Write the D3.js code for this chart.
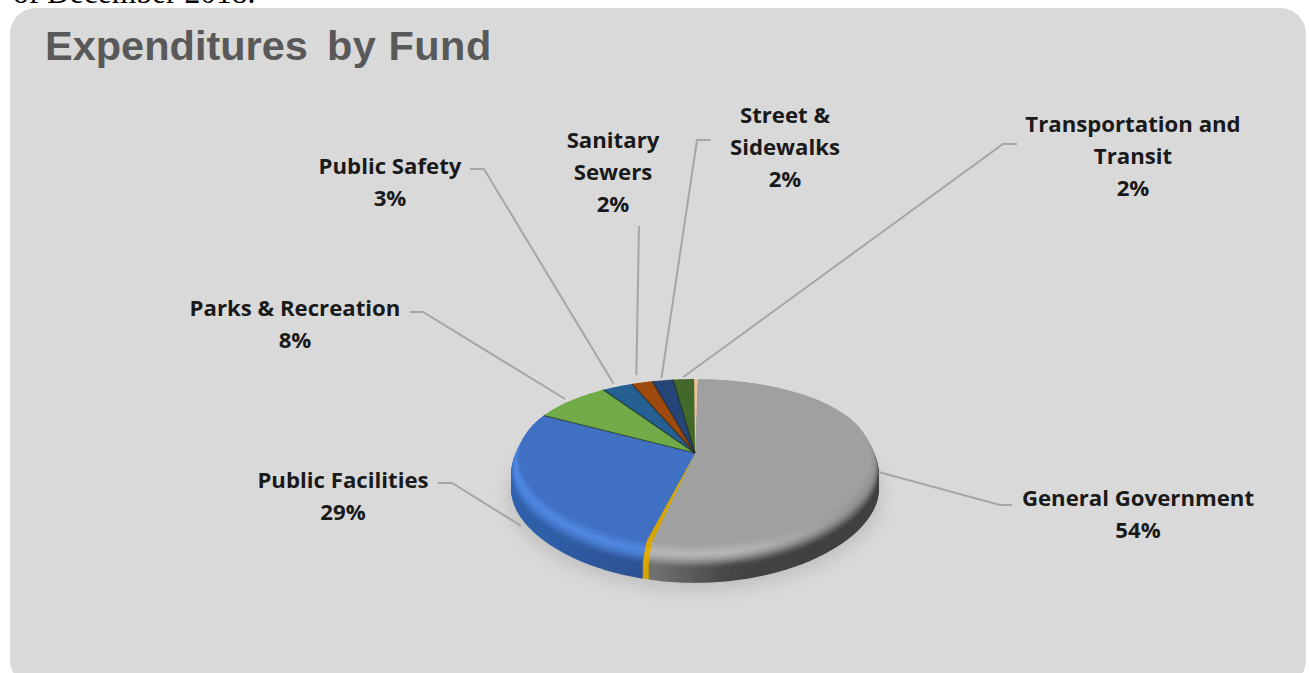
<!DOCTYPE html>
<html>
<head>
<meta charset="utf-8">
<title>Expenditures by Fund</title>
<script src="https://cdn.jsdelivr.net/npm/d3@7/dist/d3.min.js"></script>
<style>
  html, body { margin: 0; padding: 0; background: #fff; overflow: hidden; }
  svg { display: block; }
</style>
</head>
<body>
<svg id="chart" width="1309" height="673"></svg>
<script>
// Fund shares in percent, clockwise from twelve o'clock.
const funds = ["General Government", "Unlabelled A", "Public Facilities", "Parks & Recreation",
               "Public Safety", "Sanitary Sewers", "Street & Sidewalks", "Transportation and Transit", "Unlabelled B"];
const shares = [54, 0.5, 29, 8, 3, 2, 2, 2, 0.3];
const labelLines = [
  ["General Government"], null, ["Public Facilities"], ["Parks & Recreation"],
  ["Public Safety"], ["Sanitary", "Sewers"], ["Street &", "Sidewalks"], ["Transportation and", "Transit"], null
];
const faceColors = ["#a0a0a0", "#d8a500", "#3f6fc2", "#6fab46", "#255e91", "#9e480e", "#264478", "#43682b", "#eec3a0"];
const highlightColors = ["#b6b6b6", "#e0ae08", "#4f86e0", "#7cbb50", "#2c6ca6", "#b05210", "#2c4f8a", "#4d7632", "#f7c09a"];
const wallFarColors = ["#717171", "#d8a500", "#2f62ae", "#4f7a32", "#1b4468", "#70330a", "#1b3055", "#2f4a1f", "#c08a60"];
const wallNearColors = ["#717171", "#d8a500", "#2e5090", "#4f7a32", "#1b4468", "#70330a", "#1b3055", "#2f4a1f", "#c08a60"];
const wallDarkColors = ["#444444", "#d8a500", "#2e5090", "#4f7a32", "#1b4468", "#70330a", "#1b3055", "#2f4a1f", "#c08a60"];

// Label placement: text centre, first baseline, leader elbow and the leader's end on the pie.
const labelLayout = [
  { tx: 1138, ty: 506, elbow: [[1012, 505], [1000, 505]], grow: 1.0, drop: 8 },
  null,
  { tx: 343, ty: 488, elbow: [[438, 483], [452, 483]], grow: 1.0, drop: 38 },
  { tx: 295, ty: 316, elbow: [[410, 312], [423, 312]], grow: 1.02, drop: 0 },
  { tx: 390, ty: 174, elbow: [[470, 169], [484, 169]], grow: 1.04, drop: 0 },
  { tx: 613, ty: 148, elbow: [[639, 226]], grow: 1.1, drop: 0 },
  { tx: 785, ty: 123, elbow: [[711, 140], [697, 140]], grow: 1.03, drop: 0 },
  { tx: 1133, ty: 132, elbow: [[1017, 144], [1003, 144]], grow: 1.03, drop: 0 },
  null
];

const width = 1309, height = 673;
const cx = 695, cy = 453;          // apex of the pie as seen in perspective
const tiltX = 0.07, tiltY = 0.149; // foreshortening front to back
const radiusX = 183.5, radiusY = 85;
const depth = 30, bevelDepth = 17, bevelInset = 0.075;
const startRotation = 0.015;

const svg = d3.select("#chart");
const defs = svg.append("defs");

defs.append("filter").attr("id", "softShadow")
  .attr("x", "-20%").attr("y", "-40%").attr("width", "140%").attr("height", "180%")
  .append("feGaussianBlur").attr("stdDeviation", 8);
defs.append("filter").attr("id", "soften")
  .attr("x", "-5%").attr("y", "-5%").attr("width", "110%").attr("height", "110%")
  .append("feGaussianBlur").attr("stdDeviation", 0.5);

// Page text above the panel, cut off by the top of the page.
svg.append("text").attr("x", 13).attr("y", 3)
  .attr("font-family", "'Liberation Serif', serif").attr("font-size", 31.5)
  .attr("fill", "#000").text("of December 2018.");

svg.append("rect").attr("x", 10).attr("y", 8).attr("width", 1296).attr("height", 678)
  .attr("rx", 26).attr("fill", "#d9d9d9");

const title = svg.append("text").attr("x", 45).attr("y", 60)
  .attr("font-family", "'Liberation Sans', Arial, sans-serif").attr("font-size", 41.5).attr("font-weight", 700)
  .attr("fill", "#595959");
title.append("tspan").text("Expenditures");
title.append("tspan").attr("dx", 7).attr("letter-spacing", 0.5).text(" by Fund");

// Projection of a point on the tilted disc; z moves down the rim.
function project(angle, scale, z) {
  const c = Math.cos(angle);
  return [cx + scale * radiusX * Math.sin(angle) / (1 + tiltX * c),
          cy - scale * radiusY * c / (1 + tiltY * c) + z];
}

// The rounded edge is broad at the front of the disc and vanishes at the back.
function rimScale(angle, z) {
  const front = Math.pow((1 - Math.cos(angle)) / 2, 0.8);
  const t = z >= bevelDepth ? 1 : Math.sin((z / bevelDepth) * Math.PI / 2);
  return 1 - bevelInset * front * (1 - t);
}

const pie = d3.pie().value(d => d).sort(null)
  .startAngle(startRotation).endAngle(startRotation + 2 * Math.PI);
const arcs = pie(shares);

function wedgePath(a, z) {
  const steps = Math.max(2, Math.ceil((a.endAngle - a.startAngle) / 0.02));
  const pts = d3.range(steps + 1).map(i => {
    const t = a.startAngle + (a.endAngle - a.startAngle) * i / steps;
    return project(t, rimScale(t, z), z);
  });
  return d3.line()([[cx, cy + z], ...pts]) + "Z";
}

// Shadow under the disc.
const shadowPts = d3.range(0, 2 * Math.PI, 0.05).map(t => project(t, 1.02, depth + 6));
svg.append("path").attr("d", d3.line()(shadowPts) + "Z")
  .attr("fill", "#b8b8b8").attr("opacity", 0.7).attr("filter", "url(#softShadow)");

// Colour across the rim profile: z = 0 is the top face, z = depth the bottom edge.
function profileColor(i, z, wall, top) {
  const face = faceColors[i];
  if (z <= 5) return d3.interpolateRgb(face, top)(z / 5);
  if (z >= bevelDepth) return wall;
  return d3.interpolateRgb(top, wall)(d3.easeSinInOut((z - 5) / (bevelDepth - 5)));
}

const levels = d3.range(depth, -1, -1);
const rimX = d3.scaleLinear().domain([512, 880]).range([0, 1]);

// One horizontal gradient per slice and rim level, so the wall darkens to the right.
defs.selectAll("linearGradient.rim")
  .data(d3.cross(d3.range(arcs.length), levels))
  .join("linearGradient")
  .attr("id", d => `rim-${d[0]}-${d[1]}`)
  .attr("gradientUnits", "userSpaceOnUse")
  .attr("x1", rimX.invert(0)).attr("x2", rimX.invert(1)).attr("y1", 0).attr("y2", 0)
  .selectAll("stop")
  .data(([i, z]) => {
    const hi = highlightColors[i], face = faceColors[i];
    return [
      { o: 0.0,  c: profileColor(i, z, wallFarColors[i], hi) },
      { o: 0.38, c: profileColor(i, z, wallNearColors[i], hi) },
      { o: 0.60, c: profileColor(i, z, wallDarkColors[i], hi) },
      { o: 0.93, c: profileColor(i, z, d3.interpolateRgb(wallDarkColors[i], "#000")(0.08), d3.interpolateRgb(face, wallDarkColors[i])(0.12)) }
    ];
  })
  .join("stop")
  .attr("offset", d => d.o).attr("stop-color", d => d.c);

const disc = svg.append("g").attr("filter", "url(#soften)");

// Stacked outlines from the bottom edge up to the top face build the rounded rim.
levels.filter(z => z > 0).forEach(z => {
  disc.append("g").selectAll("path")
    .data(arcs)
    .join("path")
    .attr("d", a => wedgePath(a, z))
    .attr("fill", (a, i) => `url(#rim-${i}-${z})`);
});

// Top faces.
disc.append("g").selectAll("path")
  .data(arcs)
  .join("path")
  .attr("d", a => wedgePath(a, 0))
  .attr("fill", (a, i) => faceColors[i]);

// Thin dark seams between the small slices, running out from the apex.
disc.append("g").selectAll("path")
  .data(arcs.slice(3, 8))
  .join("path")
  .attr("d", a => d3.line()([[cx, cy], project(a.startAngle, rimScale(a.startAngle, 0), 0)]))
  .attr("stroke", "#1f2a1f").attr("stroke-opacity", 0.7).attr("stroke-width", 1.2);

// Leader lines and labels.
const labelled = arcs.map((a, i) => ({ a, i, lines: labelLines[i], layout: labelLayout[i] })).filter(d => d.lines);

svg.append("g").selectAll("path")
  .data(labelled)
  .join("path")
  .attr("d", d => {
    const mid = (d.a.startAngle + d.a.endAngle) / 2;
    const p = project(mid, d.layout.grow, d.layout.drop);
    return d3.line()([...d.layout.elbow, p]);
  })
  .attr("fill", "none").attr("stroke", "#a6a6a6").attr("stroke-width", 2);

const labels = svg.append("g")
  .attr("font-family", "'Open Sans', sans-serif").attr("font-weight", 700)
  .attr("font-size", 22.2).attr("fill", "#1a1a1a").attr("text-anchor", "middle");

labels.selectAll("text")
  .data(labelled)
  .join("text")
  .attr("x", d => d.layout.tx)
  .attr("y", d => d.layout.ty)
  .selectAll("tspan")
  .data(d => [...d.lines, d3.format(".0f")(shares[d.i]) + "%"].map((t, k) => ({ t, k, x: d.layout.tx, y: d.layout.ty })))
  .join("tspan")
  .attr("x", d => d.x)
  .attr("y", d => d.y + d.k * 32)
  .text(d => d.t);
</script>
</body>
</html>
